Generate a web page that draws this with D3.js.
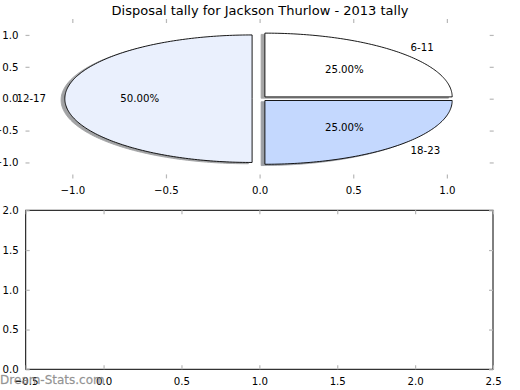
<!DOCTYPE html>
<html>
<head>
<meta charset="utf-8">
<script src="https://cdn.jsdelivr.net/npm/d3@7"></script>
<style>
  body { margin: 0; background: #fff; }
  svg { display: block; font-family: "DejaVu Sans", sans-serif; }
</style>
</head>
<body>
<svg id="chart" width="520" height="390"></svg>
<script>
// ---- data ----
const categories = ["6-11", "12-17", "18-23"];
const values = [25, 50, 25];
const colors = ["#FFFFFF", "#EAF0FD", "#C4D8FE"];
const explode = [0.04, 0.04, 0.04];
const titleText = "Disposal tally for Jackson Thurlow - 2013 tally";
const pieTicks = [-1.0, -0.5, 0.0, 0.5, 1.0];
const bottomXTicks = [-0.5, 0.0, 0.5, 1.0, 1.5, 2.0, 2.5];
const bottomYTicks = [0.0, 0.5, 1.0, 1.5, 2.0];
const watermark = "Dream-Stats.com";

const svg = d3.select("#chart");
const fmt = d3.format(".1f");
const tickColor = "#b8b8b8";
const fontSize = 10.2;

// title
svg.append("text").attr("x", 260).attr("y", 15)
  .attr("text-anchor", "middle").attr("font-size", 13).attr("fill", "#000")
  .text(titleText);

// ---- top axes (pie) ----
const x1 = d3.scaleLinear().domain([-1.25, 1.25]).range([25.5, 493.7]);
const y1 = d3.scaleLinear().domain([-1.25, 1.25]).range([178.4, 19]);

const pie = d3.pie().sort(null).startAngle(0).endAngle(2 * Math.PI)(values);
const line = d3.line().x(d => x1(d[0])).y(d => y1(d[1]));
const total = d3.sum(values);

function wedgePts(a0, a1, cx, cy) {
  const n = Math.max(8, Math.ceil((a1 - a0) / (Math.PI / 180)));
  const pts = [[cx, cy]];
  for (let i = 0; i <= n; i++) {
    const a = a0 + (a1 - a0) * i / n;
    pts.push([cx + Math.cos(a), cy + Math.sin(a)]);
  }
  pts.push([cx, cy]);
  return pts;
}

const wedges = pie.map((p, i) => {
  const mid = (p.startAngle + p.endAngle) / 2;
  const cx = explode[i] * Math.cos(mid), cy = explode[i] * Math.sin(mid);
  return { p, i, mid, cx, cy };
});

const gPie = svg.append("g");
// shadows
wedges.forEach(w => {
  const c = d3.rgb(colors[w.i]);
  const sc = d3.rgb(c.r * 0.3, c.g * 0.3, c.b * 0.3);
  gPie.append("path")
    .attr("d", line(wedgePts(w.p.startAngle, w.p.endAngle, w.cx - 0.02, w.cy - 0.02)) + "Z")
    .attr("fill", sc).attr("stroke", sc).attr("stroke-width", 0.9)
    .attr("opacity", 0.5).attr("stroke-linejoin", "miter");
});
// wedges
wedges.forEach(w => {
  gPie.append("path")
    .attr("d", line(wedgePts(w.p.startAngle, w.p.endAngle, w.cx, w.cy)) + "Z")
    .attr("fill", colors[w.i]).attr("stroke", "#000").attr("stroke-width", 0.9)
    .attr("stroke-linejoin", "miter");
});
// labels
wedges.forEach(w => {
  const lx = w.cx + 1.1 * Math.cos(w.mid), ly = w.cy + 1.1 * Math.sin(w.mid);
  gPie.append("text").attr("x", x1(lx)).attr("y", y1(ly))
    .attr("dy", "0.35em").attr("font-size", fontSize)
    .attr("text-anchor", lx > 0 ? "start" : "end")
    .text(categories[w.i]);
  const px = w.cx + 0.6 * Math.cos(w.mid), py = w.cy + 0.6 * Math.sin(w.mid);
  gPie.append("text").attr("x", x1(px)).attr("y", y1(py))
    .attr("dy", "0.35em").attr("font-size", fontSize)
    .attr("text-anchor", "middle")
    .text((w.p.value / total * 100).toFixed(2) + "%");
});

function drawAxes(x, y, xt, yt, frame) {
  const [L, R] = x.range(), [B, T] = y.range();
  const g = svg.append("g");
  if (frame) {
    g.append("rect").attr("x", L).attr("y", T).attr("width", R - L).attr("height", B - T)
      .attr("fill", "none").attr("stroke", "#000").attr("stroke-width", 1);
  }
  const tl = 4;
  const axB = d3.axisBottom(x).tickValues(xt).tickFormat(d => fmt(d).replace("-", "\u2212"))
    .tickSizeInner(-tl).tickSizeOuter(0).tickPadding(4 + tl);
  const axT = d3.axisTop(x).tickValues(xt).tickFormat("").tickSizeInner(-tl).tickSizeOuter(0);
  const axL = d3.axisLeft(y).tickValues(yt).tickFormat(d => fmt(d).replace("-", "\u2212"))
    .tickSizeInner(-tl).tickSizeOuter(0).tickPadding(3 + tl);
  const axR = d3.axisRight(y).tickValues(yt).tickFormat("").tickSizeInner(-tl).tickSizeOuter(0);
  [[axB, `translate(0,${B})`], [axT, `translate(0,${T})`], [axL, `translate(${L},0)`], [axR, `translate(${R},0)`]]
    .forEach(([ax, tr]) => {
      const a = g.append("g").attr("transform", tr).call(ax);
      a.select(".domain").remove();
      a.selectAll("line").attr("stroke", tickColor).attr("stroke-width", 1.2);
      a.selectAll("text").attr("font-size", fontSize).attr("fill", "#000")
        .attr("font-family", "DejaVu Sans, sans-serif");
    });
  return g;
}

drawAxes(x1, y1, pieTicks, pieTicks, false);

// ---- bottom axes (empty) ----
const x2 = d3.scaleLinear().domain([-0.5, 2.5]).range([25.7, 493]);
const y2 = d3.scaleLinear().domain([0, 2]).range([369.3, 210.3]);
drawAxes(x2, y2, bottomXTicks, bottomYTicks, true);

// watermark
svg.append("text").attr("x", 0).attr("y", 384)
  .attr("font-size", 12).attr("fill", "#888").attr("opacity", 0.9)
  .attr("stroke", "#888").attr("stroke-width", 0.3).attr("stroke-opacity", 0.6)
  .text(watermark);
</script>
</body>
</html>
